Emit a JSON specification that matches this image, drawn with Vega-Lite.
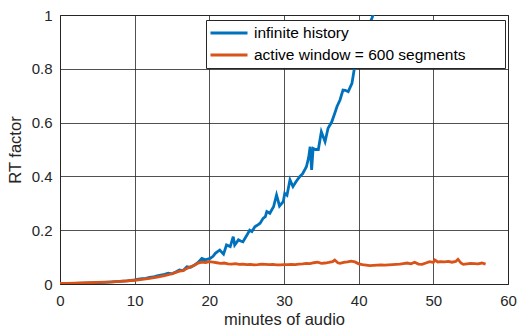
{
  "$schema": "https://vega.github.io/schema/vega-lite/v6.json",
  "width": 448,
  "height": 269,
  "autosize": {"type": "none"},
  "padding": {"left": 60, "top": 15, "right": 9, "bottom": 43},
  "background": "white",
  "config": {
    "font": "Liberation Sans",
    "view": {"stroke": "#262626", "strokeWidth": 1},
    "axis": {
      "labelFont": "Liberation Sans",
      "titleFont": "Liberation Sans",
      "labelFontSize": 15,
      "titleFontSize": 16.5,
      "labelColor": "#262626",
      "titleColor": "#262626",
      "titleFontWeight": "normal",
      "domain": false,
      "ticks": false,
      "gridColor": "#262626",
      "gridOpacity": 0.8,
      "gridWidth": 1
    }
  },
  "data": {
    "values": [
      {"x": 0, "y": 0.001, "series": "infinite history"},
      {"x": 1, "y": 0.002, "series": "infinite history"},
      {"x": 2, "y": 0.002, "series": "infinite history"},
      {"x": 3, "y": 0.003, "series": "infinite history"},
      {"x": 4, "y": 0.004, "series": "infinite history"},
      {"x": 5, "y": 0.005, "series": "infinite history"},
      {"x": 6, "y": 0.006, "series": "infinite history"},
      {"x": 7, "y": 0.008, "series": "infinite history"},
      {"x": 8, "y": 0.01, "series": "infinite history"},
      {"x": 9, "y": 0.012, "series": "infinite history"},
      {"x": 10, "y": 0.015, "series": "infinite history"},
      {"x": 10.5, "y": 0.018, "series": "infinite history"},
      {"x": 11, "y": 0.02, "series": "infinite history"},
      {"x": 11.5, "y": 0.021, "series": "infinite history"},
      {"x": 12, "y": 0.025, "series": "infinite history"},
      {"x": 12.5, "y": 0.026, "series": "infinite history"},
      {"x": 13, "y": 0.03, "series": "infinite history"},
      {"x": 13.5, "y": 0.033, "series": "infinite history"},
      {"x": 14, "y": 0.036, "series": "infinite history"},
      {"x": 14.5, "y": 0.04, "series": "infinite history"},
      {"x": 15, "y": 0.038, "series": "infinite history"},
      {"x": 15.5, "y": 0.045, "series": "infinite history"},
      {"x": 16, "y": 0.052, "series": "infinite history"},
      {"x": 16.5, "y": 0.05, "series": "infinite history"},
      {"x": 17, "y": 0.064, "series": "infinite history"},
      {"x": 17.5, "y": 0.062, "series": "infinite history"},
      {"x": 18, "y": 0.07, "series": "infinite history"},
      {"x": 18.5, "y": 0.08, "series": "infinite history"},
      {"x": 19, "y": 0.095, "series": "infinite history"},
      {"x": 19.5, "y": 0.09, "series": "infinite history"},
      {"x": 20.1, "y": 0.095, "series": "infinite history"},
      {"x": 20.5, "y": 0.103, "series": "infinite history"},
      {"x": 20.8, "y": 0.114, "series": "infinite history"},
      {"x": 21.1, "y": 0.12, "series": "infinite history"},
      {"x": 21.4, "y": 0.126, "series": "infinite history"},
      {"x": 21.9, "y": 0.111, "series": "infinite history"},
      {"x": 22.3, "y": 0.145, "series": "infinite history"},
      {"x": 22.8, "y": 0.139, "series": "infinite history"},
      {"x": 23.2, "y": 0.176, "series": "infinite history"},
      {"x": 23.4, "y": 0.145, "series": "infinite history"},
      {"x": 23.9, "y": 0.164, "series": "infinite history"},
      {"x": 24.2, "y": 0.16, "series": "infinite history"},
      {"x": 24.5, "y": 0.157, "series": "infinite history"},
      {"x": 25, "y": 0.18, "series": "infinite history"},
      {"x": 25.4, "y": 0.2, "series": "infinite history"},
      {"x": 25.7, "y": 0.195, "series": "infinite history"},
      {"x": 26.1, "y": 0.213, "series": "infinite history"},
      {"x": 26.5, "y": 0.22, "series": "infinite history"},
      {"x": 26.8, "y": 0.226, "series": "infinite history"},
      {"x": 27.2, "y": 0.244, "series": "infinite history"},
      {"x": 27.5, "y": 0.25, "series": "infinite history"},
      {"x": 27.7, "y": 0.269, "series": "infinite history"},
      {"x": 28.1, "y": 0.263, "series": "infinite history"},
      {"x": 28.6, "y": 0.287, "series": "infinite history"},
      {"x": 29.0, "y": 0.331, "series": "infinite history"},
      {"x": 29.4, "y": 0.29, "series": "infinite history"},
      {"x": 29.9, "y": 0.306, "series": "infinite history"},
      {"x": 30.1, "y": 0.337, "series": "infinite history"},
      {"x": 30.4, "y": 0.33, "series": "infinite history"},
      {"x": 30.8, "y": 0.387, "series": "infinite history"},
      {"x": 31.2, "y": 0.362, "series": "infinite history"},
      {"x": 31.6, "y": 0.38, "series": "infinite history"},
      {"x": 32.1, "y": 0.399, "series": "infinite history"},
      {"x": 32.5, "y": 0.41, "series": "infinite history"},
      {"x": 33.0, "y": 0.436, "series": "infinite history"},
      {"x": 33.3, "y": 0.47, "series": "infinite history"},
      {"x": 33.5, "y": 0.51, "series": "infinite history"},
      {"x": 33.7, "y": 0.424, "series": "infinite history"},
      {"x": 33.9, "y": 0.504, "series": "infinite history"},
      {"x": 34.2, "y": 0.5, "series": "infinite history"},
      {"x": 34.6, "y": 0.5, "series": "infinite history"},
      {"x": 35.0, "y": 0.566, "series": "infinite history"},
      {"x": 35.5, "y": 0.529, "series": "infinite history"},
      {"x": 35.9, "y": 0.579, "series": "infinite history"},
      {"x": 36.4, "y": 0.603, "series": "infinite history"},
      {"x": 36.8, "y": 0.635, "series": "infinite history"},
      {"x": 37.1, "y": 0.66, "series": "infinite history"},
      {"x": 37.5, "y": 0.684, "series": "infinite history"},
      {"x": 37.9, "y": 0.721, "series": "infinite history"},
      {"x": 38.2, "y": 0.72, "series": "infinite history"},
      {"x": 38.6, "y": 0.715, "series": "infinite history"},
      {"x": 39.1, "y": 0.746, "series": "infinite history"},
      {"x": 39.5, "y": 0.814, "series": "infinite history"},
      {"x": 40, "y": 0.85, "series": "infinite history"},
      {"x": 40.5, "y": 0.89, "series": "infinite history"},
      {"x": 41, "y": 0.93, "series": "infinite history"},
      {"x": 41.5, "y": 0.97, "series": "infinite history"},
      {"x": 41.8, "y": 0.99, "series": "infinite history"},
      {"x": 42.3, "y": 1.03, "series": "infinite history"},
      {"x": 0, "y": 0.002, "series": "active window = 600 segments"},
      {"x": 1, "y": 0.002, "series": "active window = 600 segments"},
      {"x": 2, "y": 0.003, "series": "active window = 600 segments"},
      {"x": 3, "y": 0.004, "series": "active window = 600 segments"},
      {"x": 4, "y": 0.005, "series": "active window = 600 segments"},
      {"x": 5, "y": 0.006, "series": "active window = 600 segments"},
      {"x": 6, "y": 0.007, "series": "active window = 600 segments"},
      {"x": 7, "y": 0.008, "series": "active window = 600 segments"},
      {"x": 8, "y": 0.01, "series": "active window = 600 segments"},
      {"x": 9, "y": 0.012, "series": "active window = 600 segments"},
      {"x": 10, "y": 0.014, "series": "active window = 600 segments"},
      {"x": 11, "y": 0.017, "series": "active window = 600 segments"},
      {"x": 12, "y": 0.021, "series": "active window = 600 segments"},
      {"x": 13, "y": 0.026, "series": "active window = 600 segments"},
      {"x": 14, "y": 0.031, "series": "active window = 600 segments"},
      {"x": 15, "y": 0.038, "series": "active window = 600 segments"},
      {"x": 16, "y": 0.048, "series": "active window = 600 segments"},
      {"x": 16.5, "y": 0.05, "series": "active window = 600 segments"},
      {"x": 17, "y": 0.058, "series": "active window = 600 segments"},
      {"x": 17.5, "y": 0.064, "series": "active window = 600 segments"},
      {"x": 18, "y": 0.07, "series": "active window = 600 segments"},
      {"x": 18.5, "y": 0.078, "series": "active window = 600 segments"},
      {"x": 19, "y": 0.081, "series": "active window = 600 segments"},
      {"x": 19.5, "y": 0.08, "series": "active window = 600 segments"},
      {"x": 20, "y": 0.083, "series": "active window = 600 segments"},
      {"x": 20.5, "y": 0.081, "series": "active window = 600 segments"},
      {"x": 21, "y": 0.079, "series": "active window = 600 segments"},
      {"x": 21.5, "y": 0.077, "series": "active window = 600 segments"},
      {"x": 22, "y": 0.078, "series": "active window = 600 segments"},
      {"x": 22.5, "y": 0.075, "series": "active window = 600 segments"},
      {"x": 23, "y": 0.074, "series": "active window = 600 segments"},
      {"x": 23.5, "y": 0.076, "series": "active window = 600 segments"},
      {"x": 24, "y": 0.073, "series": "active window = 600 segments"},
      {"x": 24.5, "y": 0.074, "series": "active window = 600 segments"},
      {"x": 25, "y": 0.072, "series": "active window = 600 segments"},
      {"x": 25.5, "y": 0.073, "series": "active window = 600 segments"},
      {"x": 26, "y": 0.071, "series": "active window = 600 segments"},
      {"x": 26.5, "y": 0.072, "series": "active window = 600 segments"},
      {"x": 27, "y": 0.074, "series": "active window = 600 segments"},
      {"x": 27.5, "y": 0.073, "series": "active window = 600 segments"},
      {"x": 28, "y": 0.072, "series": "active window = 600 segments"},
      {"x": 28.5, "y": 0.073, "series": "active window = 600 segments"},
      {"x": 29, "y": 0.071, "series": "active window = 600 segments"},
      {"x": 29.5, "y": 0.071, "series": "active window = 600 segments"},
      {"x": 30, "y": 0.072, "series": "active window = 600 segments"},
      {"x": 30.5, "y": 0.072, "series": "active window = 600 segments"},
      {"x": 31, "y": 0.073, "series": "active window = 600 segments"},
      {"x": 31.5, "y": 0.072, "series": "active window = 600 segments"},
      {"x": 32, "y": 0.074, "series": "active window = 600 segments"},
      {"x": 32.5, "y": 0.075, "series": "active window = 600 segments"},
      {"x": 33, "y": 0.077, "series": "active window = 600 segments"},
      {"x": 33.5, "y": 0.076, "series": "active window = 600 segments"},
      {"x": 34, "y": 0.079, "series": "active window = 600 segments"},
      {"x": 34.5, "y": 0.081, "series": "active window = 600 segments"},
      {"x": 35, "y": 0.077, "series": "active window = 600 segments"},
      {"x": 35.5, "y": 0.078, "series": "active window = 600 segments"},
      {"x": 36, "y": 0.08, "series": "active window = 600 segments"},
      {"x": 36.5, "y": 0.083, "series": "active window = 600 segments"},
      {"x": 36.8, "y": 0.089, "series": "active window = 600 segments"},
      {"x": 37.2, "y": 0.079, "series": "active window = 600 segments"},
      {"x": 37.5, "y": 0.077, "series": "active window = 600 segments"},
      {"x": 38, "y": 0.08, "series": "active window = 600 segments"},
      {"x": 38.5, "y": 0.082, "series": "active window = 600 segments"},
      {"x": 39, "y": 0.085, "series": "active window = 600 segments"},
      {"x": 39.5, "y": 0.082, "series": "active window = 600 segments"},
      {"x": 40, "y": 0.075, "series": "active window = 600 segments"},
      {"x": 40.5, "y": 0.072, "series": "active window = 600 segments"},
      {"x": 41, "y": 0.07, "series": "active window = 600 segments"},
      {"x": 41.5, "y": 0.068, "series": "active window = 600 segments"},
      {"x": 42, "y": 0.069, "series": "active window = 600 segments"},
      {"x": 42.5, "y": 0.07, "series": "active window = 600 segments"},
      {"x": 43, "y": 0.071, "series": "active window = 600 segments"},
      {"x": 43.5, "y": 0.07, "series": "active window = 600 segments"},
      {"x": 44, "y": 0.071, "series": "active window = 600 segments"},
      {"x": 44.5, "y": 0.072, "series": "active window = 600 segments"},
      {"x": 45, "y": 0.073, "series": "active window = 600 segments"},
      {"x": 45.5, "y": 0.074, "series": "active window = 600 segments"},
      {"x": 46, "y": 0.076, "series": "active window = 600 segments"},
      {"x": 46.5, "y": 0.078, "series": "active window = 600 segments"},
      {"x": 47, "y": 0.075, "series": "active window = 600 segments"},
      {"x": 47.5, "y": 0.081, "series": "active window = 600 segments"},
      {"x": 48, "y": 0.074, "series": "active window = 600 segments"},
      {"x": 48.5, "y": 0.073, "series": "active window = 600 segments"},
      {"x": 49, "y": 0.078, "series": "active window = 600 segments"},
      {"x": 49.5, "y": 0.083, "series": "active window = 600 segments"},
      {"x": 50, "y": 0.08, "series": "active window = 600 segments"},
      {"x": 50.2, "y": 0.089, "series": "active window = 600 segments"},
      {"x": 50.6, "y": 0.082, "series": "active window = 600 segments"},
      {"x": 51, "y": 0.083, "series": "active window = 600 segments"},
      {"x": 51.5, "y": 0.082, "series": "active window = 600 segments"},
      {"x": 52, "y": 0.084, "series": "active window = 600 segments"},
      {"x": 52.5, "y": 0.081, "series": "active window = 600 segments"},
      {"x": 53, "y": 0.084, "series": "active window = 600 segments"},
      {"x": 53.3, "y": 0.092, "series": "active window = 600 segments"},
      {"x": 53.7, "y": 0.078, "series": "active window = 600 segments"},
      {"x": 54, "y": 0.073, "series": "active window = 600 segments"},
      {"x": 54.5, "y": 0.075, "series": "active window = 600 segments"},
      {"x": 55, "y": 0.077, "series": "active window = 600 segments"},
      {"x": 55.5, "y": 0.076, "series": "active window = 600 segments"},
      {"x": 56, "y": 0.075, "series": "active window = 600 segments"},
      {"x": 56.5, "y": 0.078, "series": "active window = 600 segments"},
      {"x": 57, "y": 0.074, "series": "active window = 600 segments"}
    ]
  },
  "mark": {"type": "line", "strokeWidth": 2.8, "clip": true},
  "encoding": {
    "x": {
      "field": "x",
      "type": "quantitative",
      "scale": {"domain": [0, 60], "nice": false},
      "axis": {"values": [0, 10, 20, 30, 40, 50, 60], "title": "minutes of audio", "labelPadding": 9, "titlePadding": 3, "labelFlush": false}
    },
    "y": {
      "field": "y",
      "type": "quantitative",
      "scale": {"domain": [0, 1], "nice": false, "zero": false},
      "axis": {"values": [0, 0.2, 0.4, 0.6, 0.8, 1], "format": "~g", "title": "RT factor", "labelPadding": 8, "titlePadding": 8, "labelFlush": false}
    },
    "color": {
      "field": "series",
      "type": "nominal",
      "sort": ["infinite history", "active window = 600 segments"],
      "scale": {"domain": ["infinite history", "active window = 600 segments"], "range": ["#0072BD", "#D95319"]},
      "legend": {
        "title": null,
        "orient": "none",
        "legendX": 146,
        "legendY": 5,
        "symbolType": "stroke",
        "symbolSize": 1369,
        "symbolStrokeWidth": 3,
        "clipHeight": 20,
        "rowPadding": 2,
        "padding": 3,
        "labelFont": "Liberation Sans",
        "labelFontSize": 15.5,
        "labelColor": "#000000",
        "labelOffset": 5,
        "labelLimit": 400,
        "labelExpr": "datum.label + '\u2800\u2800\u2800'",
        "strokeColor": "#262626",
        "fillColor": "white",
        "cornerRadius": 0
      }
    }
  }
}
